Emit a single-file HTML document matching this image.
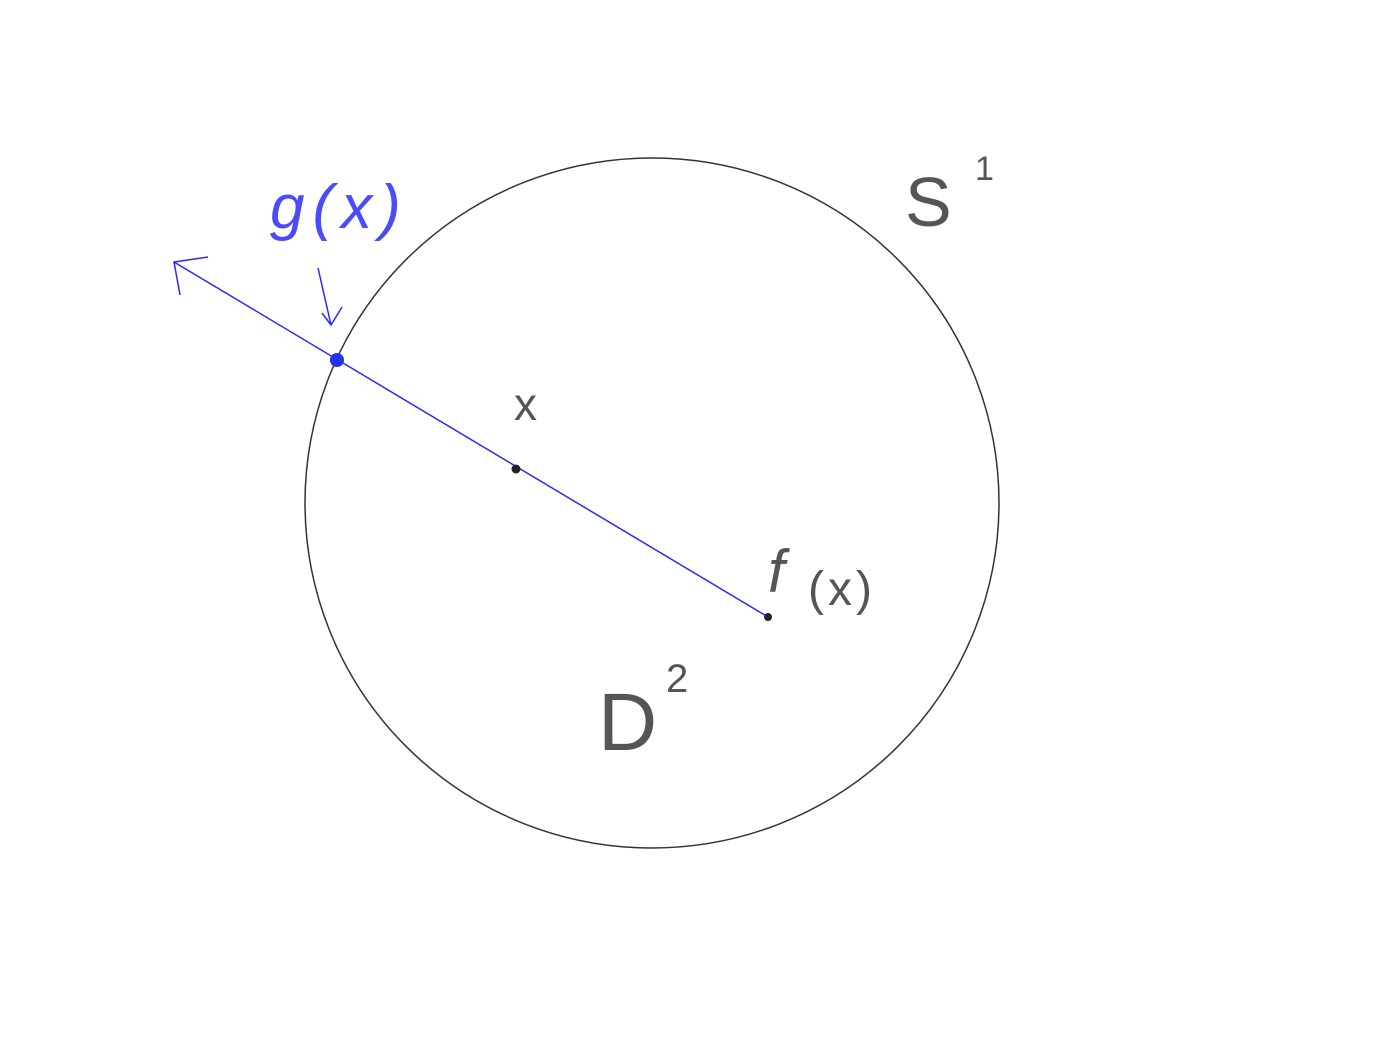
<!DOCTYPE html>
<html><head><meta charset="utf-8"><style>
html,body{margin:0;padding:0;background:#fff;width:1378px;height:1041px;overflow:hidden}
svg{display:block}
text{font-family:"Liberation Sans",sans-serif;font-weight:normal}
</style></head><body>
<svg width="1378" height="1041" viewBox="0 0 1378 1041">
<ellipse cx="652" cy="503" rx="347" ry="345" fill="none" stroke="#333" stroke-width="1.5"/>
<g stroke="#2a2aff" stroke-width="1.5" fill="none">
<line x1="768" y1="617" x2="174" y2="262"/>
<polyline points="208,257 174,262 180,295"/>
</g>
<g stroke="#2a2aff" stroke-width="1.5" fill="none">
<line x1="318" y1="268" x2="331" y2="325"/>
<polyline points="322,313 331,325 342,307"/>
</g>
<circle cx="337" cy="360" r="7" fill="#2233ee"/>
<circle cx="516" cy="469" r="4.5" fill="#222"/>
<circle cx="768" cy="617" r="4" fill="#222"/>
<text x="270" y="228" font-size="62" fill="#4a4aff" font-style="italic" letter-spacing="8">g(x)</text>
<text x="905" y="226" font-size="70" fill="#555">S</text>
<text x="975" y="180" font-size="34" fill="#555">1</text>
<text x="514" y="420" font-size="46" fill="#555">x</text>
<text x="768" y="592" font-size="60" fill="#555" font-style="italic">f</text>
<text x="808" y="605" font-size="48" fill="#555" letter-spacing="4">(x)</text>
<text x="598" y="750" font-size="82" fill="#555">D</text>
<text x="666" y="692" font-size="40" fill="#555">2</text>
</svg>
</body></html>
